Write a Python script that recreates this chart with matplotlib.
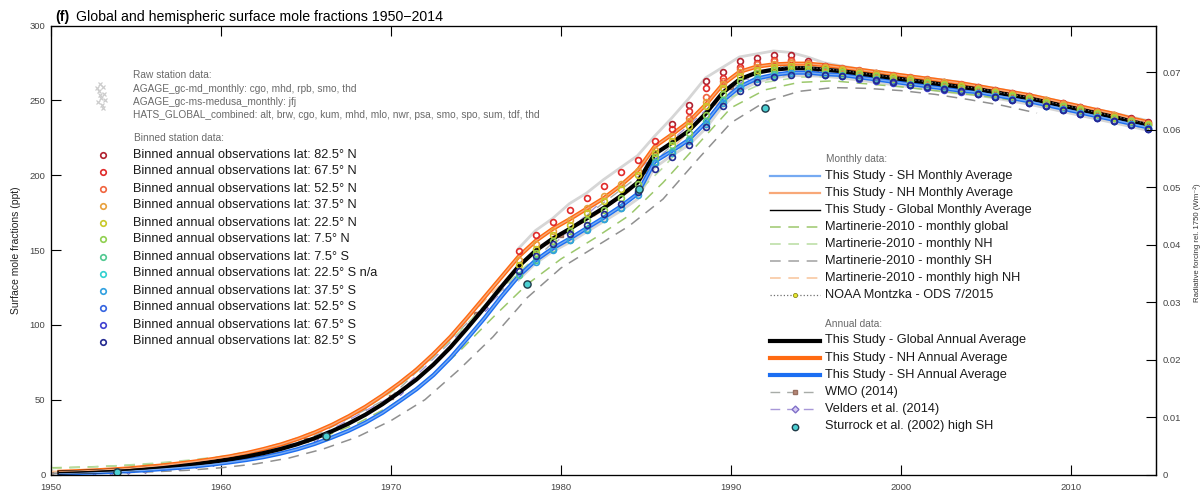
import numpy as np
import matplotlib.pyplot as plt
from matplotlib.lines import Line2D

plt.rcParams['font.family'] = ['Liberation Sans', 'DejaVu Sans']

# ---- data (ppt) ----
years = np.arange(1950, 2015)

glob_annual = [1.3, 1.6, 2.0, 2.5, 3.1, 3.9, 4.8, 5.9, 7.1, 8.5,
               10.1, 12.0, 14.3, 17.0, 20.3, 24.2, 28.8, 34.0, 40.0, 47.0,
               55.0, 63.5, 73.5, 85.0, 98.0, 111.5, 125.5, 139.0, 149.5, 157.5,
               164.0, 171.0, 178.0, 186.0, 195.0, 214.0, 221.5, 229.5, 241.0, 255.0,
               264.0, 268.5, 270.5, 271.5, 271.5, 270.5, 269.5, 268.0, 266.5, 265.0,
               263.5, 262.0, 260.5, 259.0, 257.5, 255.5, 253.5, 251.5, 249.0, 246.5,
               244.0, 241.5, 239.0, 236.5, 234.0]
nh_annual = [1.8, 2.2, 2.7, 3.3, 4.0, 5.0, 6.0, 7.3, 8.7, 10.3,
             12.1, 14.3, 17.0, 20.0, 23.7, 28.0, 33.0, 38.8, 45.3, 52.8,
             61.0, 70.0, 80.5, 92.0, 105.0, 118.5, 132.0, 145.5, 156.0, 164.0,
             170.5, 177.5, 184.5, 193.0, 203.0, 219.0, 227.0, 235.5, 247.0, 260.5,
             269.0, 272.5, 274.0, 274.5, 274.5, 273.5, 272.0, 270.5, 269.0, 267.5,
             266.0, 264.5, 263.0, 261.5, 259.5, 257.5, 255.5, 253.5, 251.0, 248.5,
             246.0, 243.5, 241.0, 238.0, 235.5]
sh_annual = [0.8, 1.0, 1.3, 1.7, 2.2, 2.8, 3.6, 4.5, 5.5, 6.7,
             8.1, 9.7, 11.6, 14.0, 16.9, 20.4, 24.6, 29.2, 34.7, 41.2,
             49.0, 57.0, 66.5, 78.0, 91.0, 104.5, 119.0, 132.5, 143.0, 151.0,
             157.5, 164.5, 171.5, 179.0, 187.5, 209.0, 216.0, 223.5, 235.0, 249.5,
             259.0, 264.5, 267.0, 268.5, 268.5, 267.5, 267.0, 265.5, 264.0, 262.5,
             261.0, 259.5, 258.0, 256.5, 255.5, 253.5, 251.5, 249.5, 247.0, 244.5,
             242.0, 239.5, 237.0, 234.5, 232.0]

mart_years = np.arange(1950, 2009, 2)
mart_global = [4.5, 5.0, 5.8, 7.0, 8.5, 10.5, 13.5, 18.0, 25.0, 34.0,
               46.0, 62.0, 82.0, 105.0, 127.0, 144.0, 158.0, 173.0, 195.0, 220.0,
               245.0, 257.0, 262.0, 263.0, 261.0, 259.0, 256.5, 254.0, 251.0, 248.0]
mart_nh = [4.0, 4.8, 6.0, 7.5, 9.5, 12.0, 16.0, 22.0, 30.0, 41.0,
           55.0, 73.0, 95.0, 119.0, 140.0, 155.0, 168.0, 183.0, 205.0, 230.0,
           252.0, 262.0, 265.5, 266.0, 264.0, 262.0, 259.5, 257.0, 254.0, 251.0]
mart_sh = [0.5, 0.8, 1.2, 1.8, 2.8, 4.5, 7.0, 11.0, 17.0, 25.0,
           36.0, 50.0, 70.0, 92.0, 118.0, 138.0, 152.0, 166.0, 184.0, 210.0,
           235.0, 249.0, 256.0, 258.5, 258.0, 256.5, 254.0, 250.5, 246.5, 241.5]
mart_highnh = [2.0, 2.8, 4.0, 5.8, 8.0, 11.5, 16.0, 22.5, 31.0, 42.5,
               57.0, 76.0, 98.0, 122.0, 144.0, 160.0, 173.0, 189.0, 211.0, 235.0,
               256.0, 266.0, 268.5, 268.0, 266.0, 264.0, 261.5, 259.0, 256.0, 253.0]

noaa_years = np.arange(1992, 2015)
noaa_vals = [272.0, 272.5, 272.0, 271.0, 270.0, 268.5, 267.0, 265.5, 264.0, 262.5,
             261.0, 259.5, 258.0, 256.0, 254.0, 252.0, 249.5, 247.0, 244.5, 242.0,
             239.5, 237.0, 234.5]

wmo_years = [1950, 1955, 1960, 1965, 1970, 1975, 1980, 1985, 1990, 1995, 2000, 2005, 2010, 2014]
wmo_vals = [1.0, 3.5, 9.5, 23.0, 52.0, 107.0, 160.0, 203.0, 259.0, 271.0, 264.0, 256.0, 244.5, 234.5]

velders_years = [1950, 1951, 1952, 1953, 1954, 1955, 1956, 1957, 1958, 1959, 1960,
                 1965, 1970, 1975, 1980, 1985, 1990, 1995, 2000, 2005, 2010, 2014]
velders_vals = [0.8, 1.1, 1.5, 2.0, 2.6, 3.3, 4.2, 5.2, 6.4, 7.8, 9.4,
                24.0, 55.0, 111.0, 163.5, 213.0, 263.5, 270.5, 263.5, 255.5, 244.0, 234.0]

sturrock_years = [1953.9, 1966.2, 1978.0, 1984.6, 1992.0]
sturrock_vals = [2.0, 26.0, 127.0, 191.0, 245.0]

raw_years = np.arange(1977, 2015)
raw_high = [151, 163, 171, 181, 188, 197, 205, 213, 226, 238,
            251, 265, 272, 279, 281, 283, 282, 279, 275, 273,
            271, 269.5, 268, 266.5, 265, 263.5, 262, 260, 258, 256,
            254, 251.5, 249, 246.5, 244, 241.5, 239, 236.5]
raw_low = [130, 141, 149, 155, 162, 169, 176, 184, 205, 213,
           220, 231, 246, 256, 262, 265, 266.5, 266.5, 266, 265,
           263.5, 262, 260.5, 259, 257.5, 256, 254.5, 253.5, 251.5, 249.5,
           247.5, 245, 242.5, 240, 237.5, 235, 232.5, 230]

bin_labels = ['82.5° N', '67.5° N', '52.5° N', '37.5° N', '22.5° N', '7.5° N',
              '7.5° S', '22.5° S n/a', '37.5° S', '52.5° S', '67.5° S', '82.5° S']
bin_colors = ['#b0202e', '#e02a2a', '#f0643e', '#e8a03c', '#c8c828', '#90d050',
              '#50c890', '#30d0d0', '#30a0e0', '#3464e0', '#4040d0', '#232a90']
bin_start = [1986, 1977, 1987, 1977, 1977, 1978, 1977, None, 1978, 1995, 1997, 1977]
bin_values = [
    [234, 247, 263, 269, 276, 278, 280, 280, 276, 273,
     271, 269.5, 268, 266.5, 265, 263.5, 262, 260.5, 259, 257,
     255, 253, 250.5, 248, 245.5, 243, 240.5, 238, 235.5],
    [149, 160, 169, 177, 185, 193, 202, 210, 223, 231,
     243, 258, 265, 272, 275, 277, 277, 274, 271, 269,
     267.5, 266, 264.5, 263, 261.5, 260, 258.5, 257, 255, 253,
     251, 248.5, 246, 243.5, 241, 238.5, 236, 233.5],
    [238, 252, 263, 271, 274, 276, 276, 275, 273, 271.5,
     270, 268.5, 267, 265.5, 264, 262.5, 261, 259, 257, 255,
     253, 250.5, 248, 245.5, 243, 240.5, 237.5, 235],
    [143, 154, 163, 170, 178, 186, 194, 203, 217, 226,
     236, 249, 261, 269, 272, 274, 275, 274, 272.5, 271,
     269.5, 268, 266.5, 265, 263.5, 262, 260.5, 258.5, 256.5, 254.5,
     252.5, 250, 247.5, 245, 242.5, 240, 237, 234.5],
    [140, 151, 160, 167, 175, 183, 191, 200, 215, 223,
     233, 246, 258, 266, 270, 272, 273, 273, 271.5, 270,
     268.5, 267, 265.5, 264, 262.5, 261, 259.5, 257.5, 255.5, 253.5,
     251.5, 249, 246.5, 244, 241.5, 239, 236.5, 234],
    [148, 156, 163, 170, 177, 185, 194, 212, 220,
     228, 240, 254, 263, 268, 270, 271, 271, 270, 269,
     267.5, 266, 264.5, 263, 261.5, 260, 258.5, 257, 255, 253,
     251, 248.5, 246, 243.5, 241, 238.5, 236, 233.5],
    [133, 143, 151, 157, 164, 171, 178, 190, 209, 216,
     224, 236, 250, 259, 265, 267.5, 268.5, 268.5, 267.5, 267,
     265.5, 264, 262.5, 261, 259.5, 258, 256.5, 255, 253, 251,
     249, 246.5, 244, 241.5, 239, 236.5, 234, 231.5],
    [],
    [142, 150, 156.5, 163.5, 170.5, 178, 186.5, 208, 215,
     222.5, 234, 248.5, 258, 264, 266.5, 268, 268, 267, 266.5,
     265, 263.5, 262, 260.5, 259, 257.5, 256, 255, 253, 251,
     249, 246.5, 244, 241.5, 239, 236.5, 234, 231.5],
    [267, 266.5, 265, 263.5, 262, 260.5, 259, 257.5, 256, 254.5,
     252.5, 250.5, 248.5, 246, 243.5, 241, 238.5, 236, 233.5, 231],
    [264.5, 263, 261.5, 260, 258.5, 257, 255.5, 254.5, 252.5, 250.5,
     248.5, 246, 243.5, 241, 238.5, 236, 233.5, 231],
    [136, 146, 154, 161, 167, 174, 181, 189, 204, 212,
     220, 232, 246, 256, 262, 265.5, 267, 267.5, 267, 266.5,
     265, 263.5, 262, 260.5, 259, 257.5, 256, 254.5, 252.5, 250.5,
     248.5, 246, 243.5, 241, 238.5, 236, 233.5, 231],
]

rf_ticks = [0, 0.01, 0.02, 0.03, 0.04, 0.05, 0.06, 0.07]
rf_labels = ['0', '0.01', '0.02', '0.03', '0.04', '0.05', '0.06', '0.07']
rf_per_ppt = 0.0002603

raw_header = ['Raw station data:',
              'AGAGE_gc-md_monthly: cgo, mhd, rpb, smo, thd',
              'AGAGE_gc-ms-medusa_monthly: jfj',
              'HATS_GLOBAL_combined: alt, brw, cgo, kum, mhd, mlo, nwr, psa, smo, spo, sum, tdf, thd']

# ---- figure ----
W, H = 1203, 493
fig = plt.figure(figsize=(W / 100, H / 100), dpi=100)
ax = fig.add_axes([51 / W, 18.5 / H, 1105 / W, 449 / H])

ax.plot(raw_years + 0.5, raw_high, color='#d6d6d6', lw=2.0, zorder=1)
ax.plot(raw_years + 0.5, raw_low, color='#d6d6d6', lw=2.0, zorder=1)

ax.plot(np.array(velders_years) + 0.5, velders_vals, color='#a898d8', lw=1, dashes=(7, 5),
        marker='D', ms=3, mfc='#d8ccf4', mec='#8070c8', mew=0.8, zorder=2)
ax.plot(wmo_years, wmo_vals, color='#a8aca8', lw=1, dashes=(7, 5),
        marker='s', ms=2.5, mfc='#b88878', mec='#987060', zorder=2)

ax.plot(mart_years, mart_sh, color='#909090', lw=1.1, dashes=(7, 5), zorder=3)
ax.plot(mart_years, mart_global, color='#9cc86c', lw=1.1, dashes=(7, 5), zorder=3)
ax.plot(mart_years, mart_nh, color='#b8dca0', lw=1.1, dashes=(7, 5), zorder=3)
ax.plot(mart_years, mart_highnh, color='#f8c49a', lw=1.1, dashes=(7, 5), zorder=3)

ax.plot(years + 0.5, sh_annual, color='#1c6ef2', lw=3, zorder=5)
ax.plot(years + 0.5, nh_annual, color='#ff6a12', lw=3, zorder=5)
ax.plot(years + 0.5, glob_annual, color='black', lw=3, zorder=5)
ax.plot(years + 0.5, sh_annual, color='#76aaf2', lw=1, zorder=5.5)
ax.plot(years + 0.5, nh_annual, color='#f8a878', lw=1, zorder=5.5)
ax.plot(years + 0.5, glob_annual, color='black', lw=1, zorder=5.5)

ax.plot(noaa_years + 0.5, noaa_vals, color='#707070', lw=0.9, ls=':',
        marker='o', ms=2.5, mfc='#e8e830', mec='#8a8a20', mew=0.6, zorder=6)

for lab, col, start, vals in zip(bin_labels, bin_colors, bin_start, bin_values):
    if start is None:
        continue
    bx = np.arange(start, start + len(vals)) + 0.5
    ax.plot(bx, vals, ls='none', marker='o', ms=4.2, mfc='none', mec=col, mew=1.2, zorder=7)

ax.plot(sturrock_years, sturrock_vals, ls='none', marker='o', ms=5.2,
        mfc='#4ccfd2', mec='#1f3a48', mew=1, zorder=8)

ax.set_xlim(1950, 2015)
ax.set_ylim(0, 300)
ax.set_xticks(np.arange(1950, 2015, 10))
ax.set_yticks(np.arange(0, 301, 50))
ax.tick_params(direction='in', length=7, width=0.8, top=True, right=False,
               labelsize=6.8, labelcolor='#444444', pad=4)
ax.tick_params(axis='x', pad=6)
for s in ax.spines.values():
    s.set_linewidth(0.9)
    s.set_color('#222222')

ax2 = ax.twinx()
ax2.set_ylim(0, 300 * rf_per_ppt)
ax2.set_yticks(rf_ticks)
ax2.set_yticklabels(rf_labels)
ax2.tick_params(direction='in', length=7, width=0.8, labelsize=6.8, labelcolor='#444444', pad=5)
ax2.spines['right'].set_linewidth(0.9)

# ---- text ----
def fx(x):
    return x / W


def fy(y):
    return 1 - y / H


fig.text(fx(55), fy(21.5), '(f)', fontsize=10.2, fontweight='bold', va='baseline')
fig.text(fx(76), fy(21.5), 'Global and hemispheric surface mole fractions 1950\u22122014',
         fontsize=10.2, va='baseline')
fig.text(fx(16), fy(250), 'Surface mole fractions (ppt)', rotation=90, fontsize=7.5,
         ha='center', va='center', color='#222222')
fig.text(fx(1197), fy(243), 'Radiative forcing rel. 1750 (Wm\u207b\u00b2)', rotation=90, fontsize=5.6,
         ha='center', va='center', color='#333333')

small = dict(fontsize=7.3, color='#6a6a6a', va='center')
big = dict(fontsize=9.2, color='#1a1a1a', va='center')

for i, t in enumerate(raw_header):
    fig.text(fx(133), fy([75, 89, 102, 115][i]), t, **small)
raw_icon_x = [100, 103, 99, 104, 101, 98, 102, 105, 100, 97, 103]
raw_icon_y = [84, 87, 91, 94, 98, 102, 105, 100, 95, 88, 108]
fig.add_artist(Line2D([fx(v) for v in raw_icon_x], [fy(v) for v in raw_icon_y],
                      transform=fig.transFigure, ls='none', marker='x', ms=2.5,
                      color='#cccccc', mew=0.9))
fig.text(fx(134), fy(138), 'Binned station data:', **small)

for i, (lab, col) in enumerate(zip(bin_labels, bin_colors)):
    y = 154.5 + 17.0 * i
    fig.add_artist(Line2D([fx(102.5)], [fy(y)], transform=fig.transFigure, ls='none',
                          marker='o', ms=4.0, mfc='none', mec=col, mew=1.2))
    fig.text(fx(133), fy(y), 'Binned annual observations lat: ' + lab, **big)

monthly_legend = [
    ('This Study - SH Monthly Average', dict(color='#76aaf2', lw=1.6)),
    ('This Study - NH Monthly Average', dict(color='#f8a878', lw=1.6)),
    ('This Study - Global Monthly Average', dict(color='black', lw=1.0)),
    ('Martinerie-2010 - monthly global', dict(color='#9cc86c', lw=1.1, dashes=(7, 5))),
    ('Martinerie-2010 - monthly NH', dict(color='#b8dca0', lw=1.1, dashes=(7, 5))),
    ('Martinerie-2010 - monthly SH', dict(color='#a0a0a0', lw=1.1, dashes=(7, 5))),
    ('Martinerie-2010 - monthly high NH', dict(color='#f8c49a', lw=1.1, dashes=(7, 5))),
    ('NOAA Montzka - ODS 7/2015', dict(color='#707070', lw=0.9, ls=':', marker='o', ms=3,
                                       mfc='#e8e830', mec='#8a8a20', mew=0.6, markevery=[1])),
]
annual_legend = [
    ('This Study - Global Annual Average', dict(color='black', lw=3)),
    ('This Study - NH Annual Average', dict(color='#ff6a12', lw=3)),
    ('This Study - SH Annual Average', dict(color='#1c6ef2', lw=3)),
    ('WMO (2014)', dict(color='#a8aca8', lw=1, dashes=(7, 5), marker='s', ms=3,
                        mfc='#b88878', mec='#987060', markevery=[1])),
    ('Velders et al. (2014)', dict(color='#a898d8', lw=1, dashes=(7, 5), marker='D', ms=3.5,
                                   mfc='#d8ccf4', mec='#8070c8', markevery=[1])),
    ('Sturrock et al. (2002) high SH', dict(ls='none', marker='o', ms=4.6, mfc='#4ccfd2',
                                            mec='#1f3a48', mew=1, markevery=[1])),
]

fig.text(fx(826), fy(159), 'Monthly data:', **small)
for i, (lab, st) in enumerate(monthly_legend):
    y = 175.7 + 17.05 * i
    fig.add_artist(Line2D([fx(770), fx(795), fx(820)], [fy(y)] * 3,
                          transform=fig.transFigure, **st))
    fig.text(fx(825), fy(y), lab, **big)

fig.text(fx(825), fy(324), 'Annual data:', **small)
for i, (lab, st) in enumerate(annual_legend):
    y = 340.5 + 17.2 * i
    fig.add_artist(Line2D([fx(770), fx(795), fx(820)], [fy(y)] * 3,
                          transform=fig.transFigure, **st))
    fig.text(fx(825), fy(y), lab, **big)

fig.savefig('out.png', dpi=100)
